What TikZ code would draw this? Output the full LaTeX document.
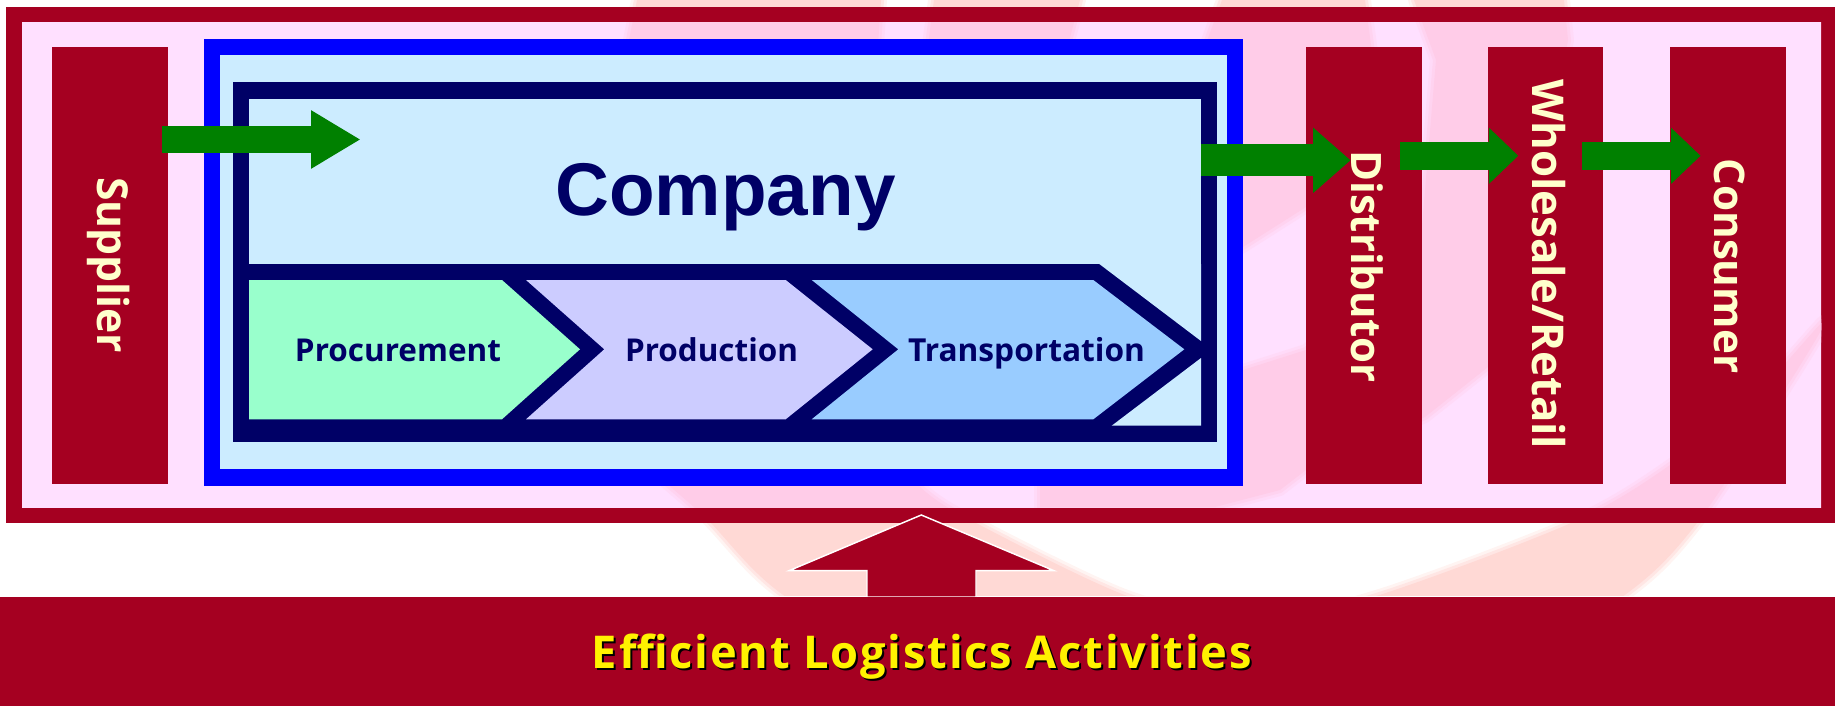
\documentclass[tikz,border=0pt]{standalone}
\usepackage{fontspec}
\usepackage{graphicx}
\setmainfont{Liberation Sans}
\newfontfamily\sidefont{Open Sans}
\newfontfamily\bandfont[LetterSpace=4]{Open Sans}
\usetikzlibrary{arrows.meta}
\definecolor{maroon}{HTML}{A50021}
\definecolor{framepink}{HTML}{FFE0FF}
\definecolor{swooshin}{HTML}{FFCCE8}
\definecolor{swooshout}{HTML}{FFD9D5}
\definecolor{paleblue}{HTML}{CCECFF}
\definecolor{pureblue}{HTML}{0000FF}
\definecolor{navy}{HTML}{000066}
\definecolor{arrowgreen}{HTML}{008000}
\definecolor{mint}{HTML}{99FFCC}
\definecolor{lavender}{HTML}{CCCCFF}
\definecolor{skyfill}{HTML}{99CCFF}
\definecolor{cream}{HTML}{FFFFCC}
\newcommand\pbox[6]{%
  \pgfmathsetmacro\boxw{(#4-#2)*0.75}\pgfmathsetmacro\boxh{(#5-#3)*0.75}%
  \node[anchor=north west,inner sep=0pt,outer sep=0pt,minimum width=\boxw pt,minimum height=\boxh pt,fill=#6] (#1) at (#2,#3) {};}
\newcommand\swooshpass[1]{%
  \path[#1] plot[smooth cycle,tension=.5] coordinates {(620,420)(711,523)(786,597)(950,690)(1204,749)(1450,700)(1622,597)(1697,523)(1789,383)(1825,320)(1760,390)(1670,465)(1571,523)(1373,597)(1250,620)(1130,597)(976,523)(920,487)(860,420)};
  \path[#1] (637,0) -- (881,0) -- (877,60) -- (625,60) -- cycle;
  \path[#1] (934,0) -- (1080,0) -- (1064,60) -- (926,60) -- cycle;
  \path[#1] (1222,0) -- (1365,0) -- (1373,60) -- (1340,190) -- (1306,207) -- (1243,247) -- (1200,270) -- (1200,60) -- cycle;
  \path[#1] (1040,486) -- (1243,370) -- (1306,350) -- (1420,250) -- (1436,60) -- (1414,0) -- (1564,0) -- (1568,40) -- (1520,300) -- (1488,367) -- (1425,417) -- (1306,470) -- (1280,490) -- (1215,507) -- (1040,507) -- cycle;}
\newcommand\swooshes[2]{%
  \swooshpass{line join=round,draw=#1!30!#2,fill=#1!30!#2,line width=9pt}%
  \swooshpass{line join=round,draw=#1!65!#2,fill=#1!65!#2,line width=4.5pt}%
  \swooshpass{fill=#1}}
\tikzset{
  sidelabel/.style={anchor=base west,rotate=-90,inner sep=0pt,text=cream,font=\sidefont\bfseries\fontsize{30}{30}\selectfont},
  steplabel/.style={anchor=base,inner sep=0pt,text=navy,font=\sidefont\bfseries\fontsize{22}{22}\selectfont},
  flow/.style={arrowgreen,line width=#1*0.75pt}
}
\begin{document}
\begin{tikzpicture}[x=0.75pt,y=-0.75pt]
\useasboundingbox (0,0) rectangle (1835,706);
% watermark outside the frame
\swooshes{swooshout}{white}
% frame
\pbox{frameouter}{6}{7}{1835}{523.3}{maroon}
\begin{scope}
  \clip (22,23) rectangle (1821,507.3);
  \fill[framepink] (0,0) rectangle (1835,706);
  \swooshes{swooshin}{framepink}
\end{scope}
% side boxes
\pbox{supplier}{52}{47}{168}{484}{maroon}
\pbox{distributor}{1306}{47}{1422}{484}{maroon}
\pbox{wholesale}{1488}{47}{1603}{484}{maroon}
\pbox{consumer}{1670}{47}{1786}{484}{maroon}
\node[sidelabel] (supplierlabel) at (97,177) {\resizebox{132pt}{!}{Supplier}};
\node[sidelabel] (distributorlabel) at (1351.5,150) {\resizebox{174pt}{!}{Distributor}};
\node[sidelabel] (wholesalelabel) at (1532,79) {\resizebox{277.5pt}{!}{Wholesale/Retail}};
\node[sidelabel] (consumerlabel) at (1714,158) {\resizebox{161.25pt}{!}{Consumer}};
% company
\pbox{blueouter}{204}{39.3}{1243}{485.7}{pureblue}
\pbox{blueinner}{220}{55}{1227}{469.3}{paleblue}
\pbox{navyouter}{233}{82.3}{1217}{441.7}{navy}
\pbox{navyinner}{249}{98.7}{1201}{264}{paleblue}
\fill[paleblue] (1099.3,264) -- (1201,264) -- (1201,341) -- cycle;
\fill[paleblue] (1201,358) -- (1201,425.7) -- (1111.7,425.7) -- cycle;
\node[anchor=base,inner sep=0pt,text=navy,font=\bfseries\fontsize{56}{56}\selectfont] (company) at (725.5,215) {Company};
% chevrons
\fill[mint] (249,280) -- (502,280) -- (580,349.3) -- (502,419.3) -- (249,419.3) -- cycle;
\fill[lavender] (526,280) -- (785.7,280) -- (872.7,349.3) -- (785.7,419.3) -- (526,419.3) -- (604.3,349.3) -- cycle;
\fill[skyfill] (811.7,280) -- (1093.3,280) -- (1184.3,349.3) -- (1093.3,419.3) -- (811.7,419.3) -- (898.3,349.3) -- cycle;
\node[steplabel] (procurement) at (398,361) {\resizebox{154.5pt}{!}{Procurement}};
\node[steplabel] (production) at (711.5,361) {\resizebox{129.75pt}{!}{Production}};
\node[steplabel] (transportation) at (1026.5,361) {\resizebox{177.75pt}{!}{Transportation}};
% green arrows
\coordinate (a1s) at (162,139.5);  \coordinate (a1e) at (360.6,139.5);
\coordinate (a2s) at (1201,160.3); \coordinate (a2e) at (1350.6,160.3);
\coordinate (a3s) at (1400,155.8); \coordinate (a3e) at (1518.3,155.8);
\coordinate (a4s) at (1581.5,155.8); \coordinate (a4e) at (1700.6,155.8);
\draw[flow=27.6,-{Triangle[length=37.2pt,width=41.2pt]}] (a1s) -- (a1e);
\draw[flow=32,-{Triangle[length=28.2pt,width=47.4pt]}] (a2s) -- (a2e);
\draw[flow=27.7,-{Triangle[length=22pt,width=40.8pt]}] (a3s) -- (a3e);
\draw[flow=27.7,-{Triangle[length=22.2pt,width=40.8pt]}] (a4s) -- (a4e);
% up arrow and band
\draw[white,line width=1.1pt] (0,596.5) -- (1835,596.5);
\draw[white,line width=1.1pt,fill=maroon,line join=miter] (867,597) -- (867,570.7) -- (789,570.7) -- (921.3,515) -- (1054,570.7) -- (976,570.7) -- (976,597) -- cycle;
\pbox{band}{0}{597}{1835}{706}{maroon}
\node[anchor=base,inner sep=0pt,text=black,font=\sidefont\bfseries\fontsize{34}{34}\selectfont] (bandshadow) at (924,670) {\resizebox{495pt}{!}{\bandfont\bfseries Efficient Logistics Activities}};
\node[anchor=base,inner sep=0pt,text=yellow,font=\sidefont\bfseries\fontsize{34}{34}\selectfont] (bandlabel) at (922,668) {\resizebox{495pt}{!}{\bandfont\bfseries Efficient Logistics Activities}};
\end{tikzpicture}
\end{document}
